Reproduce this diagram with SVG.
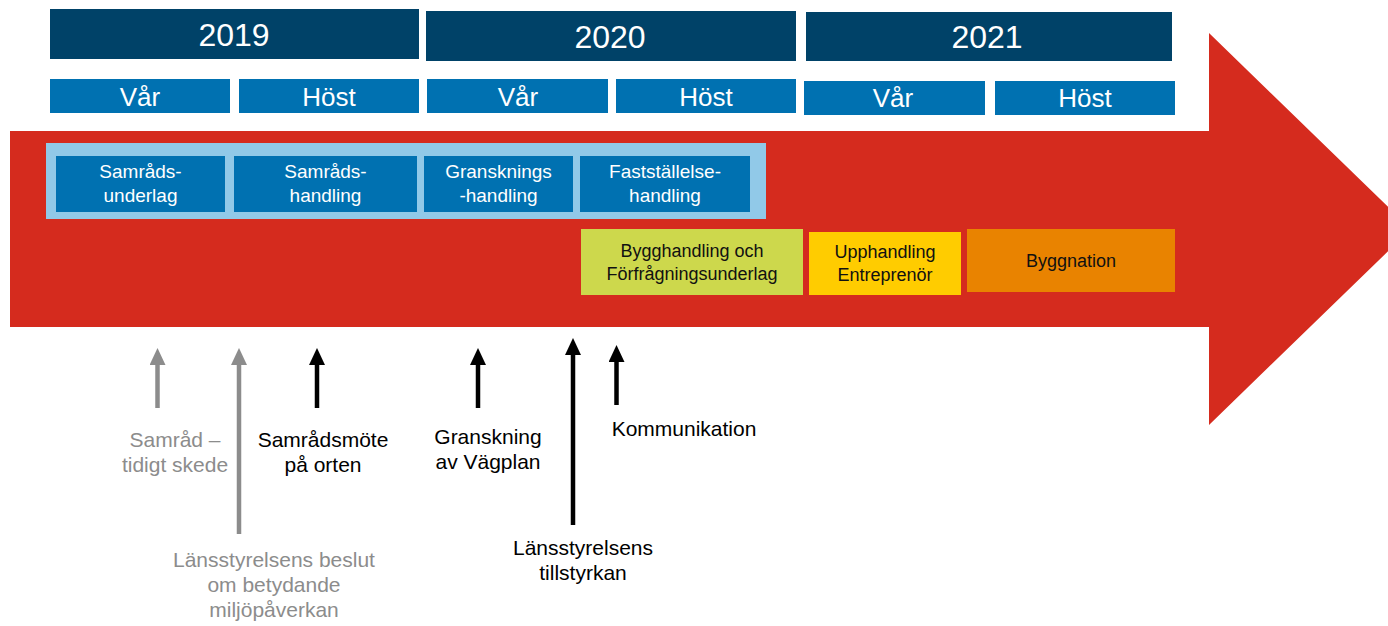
<svg xmlns="http://www.w3.org/2000/svg" width="1388" height="626" viewBox="0 0 1388 626">
<defs>
<style>
text{font-family:"Liberation Sans",Arial,sans-serif;text-anchor:middle}
.year{fill:#004268}
.season{fill:#0071B1}
.yt{fill:#fff;font-size:32px}
.st{fill:#fff;font-size:26px}
.phase{fill:#0071B1}
.pt{fill:#fff;font-size:19px}
.lt{fill:#111;font-size:18px}
.lbl{font-size:21px;fill:#000}
.glbl{font-size:21px;fill:#8C8C8C}
.ga{stroke:#8C8C8C;stroke-width:4.5;fill:none;marker-end:url(#mg)}
.ba{stroke:#000;stroke-width:4.5;fill:none;marker-end:url(#mb)}
</style>
<marker id="mg" markerUnits="userSpaceOnUse" markerWidth="17" markerHeight="16" refX="0" refY="8" orient="auto" viewBox="0 0 17 16"><path d="M0,0 L17,8 L0,16 z" fill="#8C8C8C"/></marker>
<marker id="mb" markerUnits="userSpaceOnUse" markerWidth="17" markerHeight="16" refX="0" refY="8" orient="auto" viewBox="0 0 17 16"><path d="M0,0 L17,8 L0,16 z" fill="#000"/></marker>
</defs>
<rect width="1388" height="626" fill="#fff"/>
<g id="timeline-arrow">
<path d="M10,131 L1209,131 L1209,33 L1411,229 L1209,425 L1209,327 L10,327 z" fill="#D52B1E"/>
</g>
<g id="year-2019"><rect class="year" x="50" y="9" width="369" height="50"/><text class="yt" x="234" y="46">2019</text></g>
<g id="year-2020"><rect class="year" x="426" y="11" width="370" height="50"/><text class="yt" x="610" y="48">2020</text></g>
<g id="year-2021"><rect class="year" x="806" y="12" width="366" height="49"/><text class="yt" x="987" y="48">2021</text></g>
<g id="var-2019"><rect class="season" x="50" y="79" width="180" height="34"/><text class="st" x="140" y="106">Vår</text></g>
<g id="host-2019"><rect class="season" x="239" y="79" width="180" height="34"/><text class="st" x="329" y="106">Höst</text></g>
<g id="var-2020"><rect class="season" x="427" y="79" width="181" height="34"/><text class="st" x="518" y="106">Vår</text></g>
<g id="host-2020"><rect class="season" x="616" y="79" width="180" height="34"/><text class="st" x="706" y="106">Höst</text></g>
<g id="var-2021"><rect class="season" x="804" y="81" width="181" height="34"/><text class="st" x="893" y="107">Vår</text></g>
<g id="host-2021"><rect class="season" x="995" y="81" width="180" height="34"/><text class="st" x="1085" y="107">Höst</text></g>
<g id="plan-container"><rect x="46" y="143" width="720" height="76" fill="#91C9E8"/></g>
<g id="samradsunderlag"><rect class="phase" x="56" y="156" width="169" height="56"/><text class="pt" x="140.5" y="178">Samråds-</text><text class="pt" x="140.5" y="202">underlag</text></g>
<g id="samradshandling"><rect class="phase" x="234" y="156" width="183" height="56"/><text class="pt" x="325.5" y="178">Samråds-</text><text class="pt" x="325.5" y="202">handling</text></g>
<g id="granskningshandling"><rect class="phase" x="424" y="156" width="149" height="56"/><text class="pt" x="498.5" y="178">Gransknings</text><text class="pt" x="498.5" y="202">-handling</text></g>
<g id="faststallelsehandling"><rect class="phase" x="580" y="156" width="170" height="56"/><text class="pt" x="665" y="178">Fastställelse-</text><text class="pt" x="665" y="202">handling</text></g>
<g id="bygghandling"><rect x="581" y="229" width="222" height="66" fill="#CDD84C"/><text class="lt" x="692" y="257">Bygghandling och</text><text class="lt" x="692" y="280">Förfrågningsunderlag</text></g>
<g id="upphandling"><rect x="809" y="232" width="152" height="63" fill="#FFCC00"/><text class="lt" x="885" y="258">Upphandling</text><text class="lt" x="885" y="281">Entreprenör</text></g>
<g id="byggnation"><rect x="967" y="229" width="208" height="63" fill="#E98300"/><text class="lt" x="1071" y="267">Byggnation</text></g>
<g id="connectors">
<line class="ga" x1="157.5" y1="408" x2="157.5" y2="365"/>
<line class="ga" x1="239" y1="534" x2="239" y2="365"/>
<line class="ba" x1="317" y1="408" x2="317" y2="365"/>
<line class="ba" x1="478" y1="408" x2="478" y2="365"/>
<line class="ba" x1="573" y1="525" x2="573" y2="355"/>
<line class="ba" x1="616.5" y1="405" x2="616.5" y2="362"/>
</g>
<g id="label-samrad-tidigt"><text class="glbl" x="175" y="447">Samråd –</text><text class="glbl" x="175" y="472">tidigt skede</text></g>
<g id="label-lansstyrelsens-beslut"><text class="glbl" x="274" y="567">Länsstyrelsens beslut</text><text class="glbl" x="274" y="592">om betydande</text><text class="glbl" x="274" y="617">miljöpåverkan</text></g>
<g id="label-samradsmote"><text class="lbl" x="323" y="447">Samrådsmöte</text><text class="lbl" x="323" y="472">på orten</text></g>
<g id="label-granskning"><text class="lbl" x="488" y="444">Granskning</text><text class="lbl" x="488" y="469">av Vägplan</text></g>
<g id="label-tillstyrkan"><text class="lbl" x="583" y="555">Länsstyrelsens</text><text class="lbl" x="583" y="580">tillstyrkan</text></g>
<g id="label-kommunikation"><text class="lbl" x="684" y="436">Kommunikation</text></g>
</svg>
